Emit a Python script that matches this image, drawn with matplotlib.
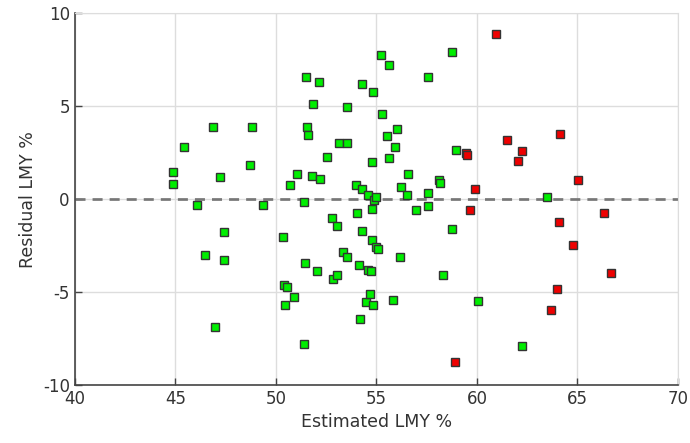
import numpy as np
import matplotlib
matplotlib.use('Agg')
import matplotlib.pyplot as plt

plt.rcParams['axes.unicode_minus'] = False

# green: within tolerance, red: outside
green_x = [44.88, 44.88, 45.44, 46.10, 46.47, 46.90, 46.98, 47.24, 47.44, 47.44,
           48.72, 48.84, 49.37, 50.35, 50.40, 50.58, 50.46, 50.71, 50.91, 51.07,
           51.42, 51.42, 51.47, 51.49, 51.54, 51.61, 51.81, 51.87, 52.05, 52.14,
           52.20, 52.57, 52.79, 52.83, 53.03, 53.03, 53.15, 53.35, 53.55, 53.55,
           53.55, 54.00, 54.06, 54.16, 54.18, 54.31, 54.31, 54.31, 54.49, 54.56,
           54.58, 54.69, 54.71, 54.78, 54.78, 54.78, 54.83, 54.83, 54.89, 54.98,
           54.98, 55.09, 55.22, 55.27, 55.52, 55.65, 55.65, 55.85, 55.92, 56.02,
           56.20, 56.25, 56.52, 56.57, 56.97, 57.59, 57.59, 57.59, 58.11, 58.17,
           58.31, 58.76, 58.76, 58.96, 60.03, 62.24, 63.50]
green_y = [1.44, 0.81, 2.82, -0.31, -3.03, 3.86, -6.87, 1.17, -1.78, -3.25,
           1.85, 3.86, -0.31, -2.06, -4.63, -4.72, -5.69, 0.74, -5.26, 1.36,
           -0.18, -7.77, -3.45, 6.59, 3.88, 3.46, 1.22, 5.12, -3.86, 6.32,
           1.08, 2.28, -1.02, -4.27, -1.42, -4.08, 3.03, -2.84, 3.03, 4.97,
           -3.11, 0.74, -0.74, -3.52, -6.45, 6.18, 0.54, -1.71, -5.53, 0.23,
           -3.79, -5.12, -3.86, -0.52, -2.20, 1.99, 5.75, -5.69, -0.05, 0.09,
           -2.55, -2.69, 7.77, 4.56, 3.38, 7.22, 2.21, -5.40, 2.82, 3.75,
           -3.11, 0.63, 0.25, 1.36, -0.59, 6.59, 0.31, -0.38, 1.01, 0.88,
           -4.08, 7.92, -1.63, 2.62, -5.48, -7.90, 0.09]

red_x = [58.89, 59.45, 59.52, 59.65, 59.90, 60.93, 61.51, 62.04, 62.22,
         63.70, 63.96, 64.09, 64.14, 64.79, 65.04, 66.32, 66.65]
red_y = [-8.74, 2.50, 2.35, -0.59, 0.54, 8.89, 3.19, 2.05, 2.60,
         -5.96, -4.83, -1.22, 3.52, -2.46, 1.01, -0.72, -4.00]

x_ticks = [40, 45, 50, 55, 60, 65, 70]
y_ticks = [-10, -5, 0, 5, 10]

fig = plt.figure(figsize=(6.9, 4.43), dpi=100)
ax = fig.add_axes([0.1083, 0.1309, 0.8743, 0.8391])

ax.grid(True, color='#dddddd', linewidth=1)
ax.set_axisbelow(True)
ax.axhline(0, color='#777777', linewidth=1.95, dashes=(3.7, 2.6), zorder=1.5)

ax.plot(green_x, green_y, 's', color='#00ee00', markeredgecolor='#333333',
        markeredgewidth=1, markersize=5.5, linestyle='none', zorder=3)
ax.plot(red_x, red_y, 's', color='#ee0000', markeredgecolor='#333333',
        markeredgewidth=1, markersize=5.5, linestyle='none', zorder=3)

ax.set_xlim(40, 70)
ax.set_ylim(-10, 10)
ax.set_xticks(x_ticks)
ax.set_yticks(y_ticks)
ax.tick_params(direction='in', length=5, width=1, colors='#444444',
               labelsize=12, labelcolor='#333333')
ax.tick_params(top=False, right=False)
for s in ['top', 'right']:
    ax.spines[s].set_color('#dddddd')
for s in ['left', 'bottom']:
    ax.spines[s].set_color('#444444')
    ax.spines[s].set_linewidth(1.2)

ax.set_xlabel('Estimated LMY %', fontsize=12.5, color='#333333')
ax.set_ylabel('Residual LMY %', fontsize=12.5, color='#333333')

fig.savefig('out.png', dpi=100)
